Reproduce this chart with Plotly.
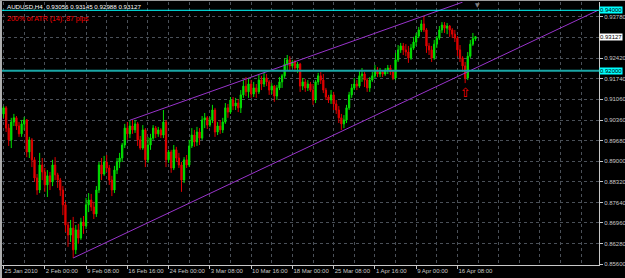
import plotly.graph_objects as go

symbol = "AUDUSD,H4"
atr_text = "200% of ATR (14): 87 pips"

opens = [
    .9057, .9077, .9010, .8971, .9030, .9044, .9017, .8991, .9024, .9037,
    .8931, .8971, .8905, .8845, .8805, .8888, .8865, .8822, .8852, .8832,
    .8888, .8855, .8838, .8805, .8756, .8689, .8656, .8679, .8607, .8673,
    .8646, .8699, .8686, .8756, .8772, .8749, .8726, .8805, .8888, .8858,
    .8898, .8878, .8838, .8805, .8871, .8898, .8911, .8954, .9010, .8991,
    .9017, .9004, .9024, .8971, .8944, .9004, .8905, .8954, .8977, .9010,
    .8991, .9004, .8987, .9030, .8905, .8931, .8878, .8938, .8911, .8888,
    .8838, .8905, .8888, .8951, .8987, .8964, .8997, .8977, .9037, .9044,
    .9020, .9037, .9070, .8997, .9017, .9004, .9030, .9077, .9063, .9103,
    .9083, .9093, .9077, .9120, .9149, .9130, .9156, .9123, .9143, .9130,
    .9169, .9156, .9176, .9163, .9136, .9149, .9116, .9143, .9163, .9183,
    .9222, .9236, .9216, .9229, .9209, .9222, .9149, .9163, .9143, .9156,
    .9136, .9103, .9163, .9183, .9169, .9136, .9113, .9103, .9120, .9090,
    .9070, .9044, .9024, .9037, .9077, .9120, .9143, .9156, .9149, .9183,
    .9189, .9169, .9143, .9169, .9183, .9202, .9189, .9196, .9189, .9202,
    .9209, .9196, .9176, .9236, .9269, .9282, .9269, .9262, .9242, .9275,
    .9295, .9315, .9335, .9355, .9335, .9282, .9269, .9242, .9288, .9308,
    .9335, .9351, .9341, .9348, .9335, .9321, .9308, .9269, .9242, .9216,
    .9176, .9248, .9288, .93056,
]
highs = [
    .9083, .9083, .9024, .9044, .9057, .9050, .9030, .9037, .9047, .9040,
    .8981, .8977, .8914, .8858, .8928, .8911, .8878, .8871, .8865, .8905,
    .8914, .8862, .8845, .8818, .8766, .8699, .8706, .8716, .8689, .8693,
    .8713, .8719, .8779, .8795, .8792, .8766, .8818, .8898, .8911, .8918,
    .8921, .8888, .8852, .8885, .8911, .8928, .8961, .9024, .9030, .9034,
    .9037, .9037, .9030, .8984, .9020, .9010, .8981, .8991, .9020, .9017,
    .9014, .9010, .9070, .9037, .8938, .8938, .8954, .8948, .8928, .8898,
    .8914, .8921, .8971, .9010, .9004, .9014, .9010, .9050, .9060, .9050,
    .9047, .9087, .9077, .9030, .9037, .9044, .9093, .9090, .9113, .9113,
    .9110, .9106, .9136, .9169, .9179, .9176, .9169, .9163, .9156, .9186,
    .9183, .9193, .9189, .9169, .9159, .9153, .9153, .9179, .9189, .9242,
    .9252, .9248, .9236, .9236, .9229, .9226, .9176, .9173, .9169, .9163,
    .9156, .9169, .9193, .9196, .9189, .9143, .9120, .9136, .9130, .9103,
    .9083, .9057, .9053, .9087, .9130, .9156, .9176, .9169, .9202, .9209,
    .9196, .9176, .9179, .9196, .9219, .9212, .9209, .9202, .9209, .9219,
    .9219, .9202, .9259, .9285, .9292, .9292, .9288, .9282, .9288, .9312,
    .9325, .9345, .9368, .9381, .9341, .9292, .9282, .9302, .9315, .9348,
    .9361, .9361, .9358, .9351, .9341, .9335, .9315, .9285, .9248, .9229,
    .9262, .9302, .9325, .93145,
]
lows = [
    .9044, .8997, .8951, .8944, .9017, .9004, .8981, .8981, .9004, .8914,
    .8911, .8881, .8832, .8789, .8795, .8838, .8799, .8782, .8805, .8818,
    .8838, .8812, .8785, .8722, .8666, .8617, .8633, .8580, .8593, .8627,
    .8640, .8660, .8676, .8732, .8736, .8709, .8716, .8795, .8838, .8852,
    .8865, .8822, .8785, .8795, .8858, .8878, .8898, .8944, .8971, .8977,
    .8991, .8994, .8951, .8938, .8938, .8881, .8895, .8938, .8971, .8977,
    .8981, .8977, .8977, .8881, .8895, .8862, .8871, .8898, .8878, .8799,
    .8828, .8878, .8881, .8944, .8948, .8951, .8954, .8971, .9010, .9007,
    .9014, .9027, .8981, .8987, .8991, .8994, .9024, .9044, .9057, .9070,
    .9070, .9063, .9060, .9110, .9116, .9110, .9110, .9113, .9110, .9123,
    .9136, .9146, .9149, .9120, .9123, .9097, .9103, .9136, .9143, .9176,
    .9202, .9202, .9209, .9196, .9193, .9130, .9136, .9130, .9133, .9130,
    .9087, .9093, .9153, .9156, .9126, .9103, .9093, .9090, .9070, .9057,
    .9027, .9004, .9010, .9027, .9070, .9110, .9136, .9136, .9143, .9163,
    .9146, .9130, .9130, .9163, .9176, .9179, .9179, .9179, .9183, .9189,
    .9186, .9169, .9169, .9229, .9259, .9252, .9248, .9226, .9236, .9269,
    .9282, .9308, .9328, .9328, .9259, .9252, .9229, .9236, .9275, .9302,
    .9325, .9325, .9321, .9312, .9308, .9295, .9248, .9229, .9196, .9159,
    .9169, .9242, .9282, .92988,
]
closes = [
    .9077, .9010, .8971, .9030, .9044, .9017, .8991, .9024, .9037, .8931,
    .8971, .8905, .8845, .8805, .8888, .8865, .8822, .8852, .8832, .8888,
    .8855, .8838, .8805, .8756, .8689, .8656, .8679, .8607, .8673, .8646,
    .8699, .8686, .8756, .8772, .8749, .8726, .8805, .8888, .8858, .8898,
    .8878, .8838, .8805, .8871, .8898, .8911, .8954, .9010, .8991, .9017,
    .9004, .9024, .8971, .8944, .9004, .8905, .8954, .8977, .9010, .8991,
    .9004, .8987, .9030, .8905, .8931, .8878, .8938, .8911, .8888, .8838,
    .8905, .8888, .8951, .8987, .8964, .8997, .8977, .9037, .9044, .9020,
    .9037, .9070, .8997, .9017, .9004, .9030, .9077, .9063, .9103, .9083,
    .9093, .9077, .9120, .9149, .9130, .9156, .9123, .9143, .9130, .9169,
    .9156, .9176, .9163, .9136, .9149, .9116, .9143, .9163, .9183, .9222,
    .9236, .9216, .9229, .9209, .9222, .9149, .9163, .9143, .9156, .9136,
    .9103, .9163, .9183, .9169, .9136, .9113, .9103, .9120, .9090, .9070,
    .9044, .9024, .9037, .9077, .9120, .9143, .9156, .9149, .9183, .9189,
    .9169, .9143, .9169, .9183, .9202, .9189, .9196, .9189, .9202, .9209,
    .9196, .9176, .9236, .9269, .9282, .9269, .9262, .9242, .9275, .9295,
    .9315, .9335, .9355, .9335, .9282, .9269, .9242, .9288, .9308, .9335,
    .9351, .9341, .9348, .9335, .9321, .9308, .9269, .9242, .9216, .9176,
    .9248, .9288, .9306, .93127,
]

tick_bars = [0, 16, 32, 48, 64, 80, 96, 112, 128, 144, 160, 176]
tick_labels = ["25 Jan 2010", "2 Feb 00:00", "9 Feb 08:00", "16 Feb 16:00",
               "24 Feb 00:00", "3 Mar 08:00", "10 Mar 16:00", "18 Mar 00:00",
               "25 Mar 08:00", "1 Apr 16:00", "9 Apr 00:00", "16 Apr 08:00"]
grid_bars = [8, 24, 40, 56, 72, 88, 104, 120, 136, 152, 168, 184, 192, 200,
             208, 216, 224]
price_ticks = [0.8560, 0.8628, 0.8696, 0.8764, 0.8832, 0.8900, 0.8968,
               0.9036, 0.9106, 0.9174, 0.9242, 0.9310, 0.9378]
price_tick_labels = ["0.85600", "0.86280", "0.86960", "0.87640", "0.88320",
                     "0.89000", "0.89680", "0.90360", "0.91060", "0.91740",
                     "0.92420", "", "0.93780"]

level_prices = [0.9400, 0.9200]
level_labels = ["0.94000", "0.92000"]
level_colors = ["#00ffff", "#1aa6a6"]
level_widths = [1, 2]

upper_channel_bars = [49, 178]
upper_channel_prices = [0.9036, 0.9427]
lower_channel_bars = [27, 230.5]
lower_channel_prices = [0.8580, 0.9400]

signal_bars = [179]
signal_prices = [0.9123]

GREEN = "#00e000"
RED = "#e00000"
PURPLE = "#9933cc"
GRID = "#4a5058"
AXIS = "#c8c8c8"
FONT = "Liberation Sans"

bars = list(range(len(closes)))

fig = go.Figure()
fig.add_trace(go.Candlestick(
    x=bars, open=opens, high=highs, low=lows, close=closes,
    increasing=dict(line=dict(color=GREEN, width=1), fillcolor=GREEN),
    decreasing=dict(line=dict(color=RED, width=1), fillcolor=RED),
    whiskerwidth=0, hoverinfo="skip", showlegend=False,
))
fig.add_trace(go.Scatter(x=upper_channel_bars, y=upper_channel_prices,
                         mode="lines", line=dict(color=PURPLE, width=1),
                         hoverinfo="skip", showlegend=False))
fig.add_trace(go.Scatter(x=lower_channel_bars, y=lower_channel_prices,
                         mode="lines", line=dict(color=PURPLE, width=1),
                         hoverinfo="skip", showlegend=False))
fig.add_trace(go.Scatter(x=signal_bars, y=signal_prices, mode="text",
                         text=["⇧"], textposition="middle center",
                         textfont=dict(family="DejaVu Sans", size=13, color="#ff0000"),
                         hoverinfo="skip", showlegend=False))

for p, c, w in zip(level_prices, level_colors, level_widths):
    fig.add_shape(type="line", xref="paper", x0=0, x1=1, yref="y", y0=p, y1=p,
                  line=dict(color=c, width=w), layer="above")

annotations = []
for p, t in zip(level_prices, level_labels):
    annotations.append(dict(x=1, xref="paper", xanchor="left", y=p, yref="y",
                            yanchor="middle", text=t, showarrow=False,
                            bgcolor="#00ffff", borderpad=0,
                            font=dict(family=FONT, size=6, color="#000000")))
annotations.append(dict(x=1, xref="paper", xanchor="left", y=closes[-1], yref="y",
                        yanchor="middle", text=f"{closes[-1]:.5f}", showarrow=False,
                        bgcolor="#ffffff", borderpad=0,
                        font=dict(family=FONT, size=6, color="#000000")))
annotations.append(dict(x=0.005, xref="paper", xanchor="left", y=0.981, yref="paper",
                        yanchor="middle", showarrow=False,
                        text=f"{symbol}  {opens[-1]:.5f} {highs[-1]:.5f} {lows[-1]:.5f} {closes[-1]:.5f}",
                        font=dict(family=FONT, size=6.2, color="#ffffff")))
annotations.append(dict(x=0.005, xref="paper", xanchor="left", y=0.937, yref="paper",
                        yanchor="middle", showarrow=False, text=atr_text,
                        font=dict(family=FONT, size=7, color="#ff0000")))
annotations.append(dict(x=0.797, xref="paper", xanchor="center", y=0.992, yref="paper",
                        yanchor="middle", showarrow=False, text="▼",
                        font=dict(family="DejaVu Sans", size=6, color="#808080")))

# window frame
fig.add_shape(type="line", xref="paper", yref="paper", x0=-0.0017, x1=-0.0017,
              y0=-0.06, y1=1.01, line=dict(color="#b0b0b0", width=2))
fig.add_shape(type="line", xref="paper", yref="paper", x0=-0.01, x1=1.05,
              y0=1.0057, y1=1.0057, line=dict(color="#9a9a9a", width=1))

fig.update_layout(
    width=625, height=278,
    margin=dict(l=2, r=26, t=2, b=13, autoexpand=False),
    paper_bgcolor="#000000", plot_bgcolor="#000000",
    font=dict(family=FONT, size=6, color=AXIS),
    annotations=annotations,
    showlegend=False,
)
fig.update_xaxes(
    range=[-0.6, 230.9], rangeslider=dict(visible=False),
    tickmode="array", tickvals=tick_bars, ticktext=tick_labels,
    tickangle=0, automargin=False,
    ticks="outside", ticklen=3, tickcolor=AXIS, tickwidth=1,
    ticklabelposition="outside right",
    tickfont=dict(family=FONT, size=6, color=AXIS),
    showline=True, linecolor=AXIS, linewidth=1, mirror=False,
    showgrid=True, gridcolor=GRID, griddash="dot", gridwidth=1,
    minor=dict(tickmode="array", tickvals=grid_bars, showgrid=True,
               gridcolor=GRID, griddash="dot", gridwidth=1, ticks=""),
    zeroline=False, fixedrange=True,
)
fig.update_yaxes(
    side="right", range=[0.85568, 0.94275], automargin=False,
    tickmode="array", tickvals=price_ticks, ticktext=price_tick_labels,
    ticks="outside", ticklen=3, tickcolor=AXIS, tickwidth=1,
    tickfont=dict(family=FONT, size=6, color=AXIS),
    showline=True, linecolor=AXIS, linewidth=1,
    showgrid=True, gridcolor=GRID, griddash="dot", gridwidth=1,
    zeroline=False, fixedrange=True,
)

fig.write_html("out.html")
